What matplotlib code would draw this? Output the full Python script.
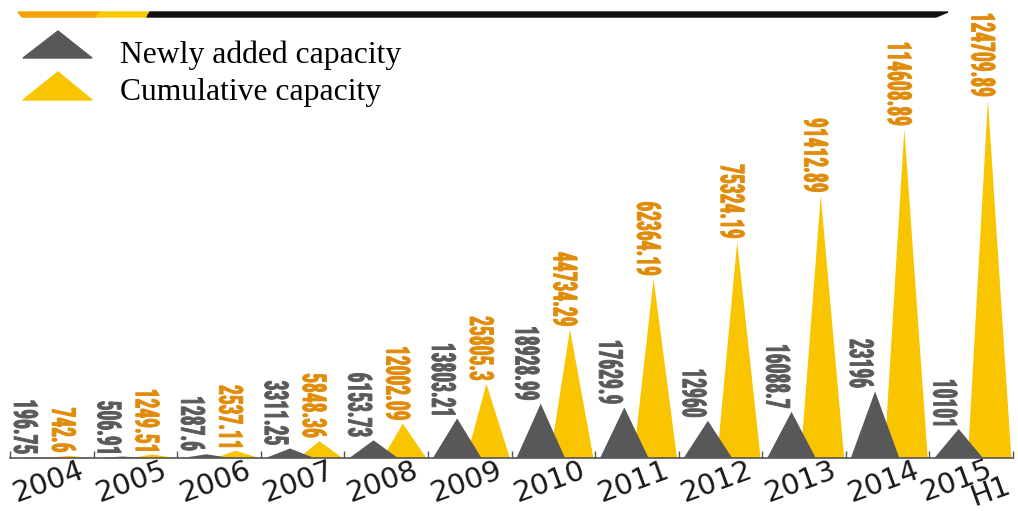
import matplotlib
matplotlib.use("Agg")
import matplotlib.pyplot as plt
from matplotlib import transforms
from matplotlib.font_manager import FontProperties
from matplotlib.patches import PathPatch, Polygon
from matplotlib.textpath import TextPath

W, H = 1018, 511

years = ['2004', '2005', '2006', '2007', '2008', '2009', '2010',
         '2011', '2012', '2013', '2014', '2015\nH1']
newly_added = [196.75, 506.91, 1287.6, 3311.25, 6153.73, 13803.21, 18928.99,
               17629.9, 12960, 16088.7, 23196, 10101]
cumulative = [742.6, 1249.51, 2537.11, 5848.36, 12002.09, 25805.3, 44734.29,
              62364.19, 75324.19, 91412.89, 114608.89, 124709.89]

DARK = '#58585a'
DARK_TXT = '#5a5a5c'
YELLOW = '#f9c400'
ORANGE_TXT = '#e08c0a'

label_font = FontProperties(family='Roboto Condensed', weight='bold')


def squeezed_label(ax, x, y, s, color, em=33, squeeze=0.59, gap=4):
    """Draw a narrow bold label reading downwards, its bottom just above (x, y)."""
    path = TextPath((0, 0), s, size=1, prop=label_font)
    ext = path.get_extents()
    px, py = ax.transData.transform((x, y))
    tr = (transforms.Affine2D()
          .translate(-ext.x1, -(ext.y0 + ext.y1) / 2)
          .scale(squeeze * em, em)
          .rotate_deg(-90)
          .translate(px, py + gap))
    ax.add_patch(PathPatch(path, transform=tr, facecolor=color,
                           edgecolor=color, lw=0.7, clip_on=False, zorder=5))


fig = plt.figure(figsize=(W / 100, H / 100), dpi=100)
# pixel coordinates measured from the top-left corner of the image
top_px = transforms.Affine2D().scale(1, -1).translate(0, H)

x0, x1, base = 10, 1013, 458
ax = fig.add_axes([x0 / W, (H - base) / H, (x1 - x0) / W, base / H])
ax.set_xlim(0, len(years))
ax.set_ylim(0, max(cumulative) * base / 358)

for i, (n, c) in enumerate(zip(newly_added, cumulative)):
    ax.fill([i + 0.46, i + 0.70, i + 0.98], [0, c, 0], color=YELLOW,
            lw=0, zorder=2)
    ax.fill([i + 0.06, i + 0.35, i + 0.64], [0, n, 0], color=DARK,
            lw=0, zorder=3)
    squeezed_label(ax, i + 0.19, n, str(n), DARK_TXT)
    squeezed_label(ax, i + 0.645, c, str(c), ORANGE_TXT)

for side in ['top', 'right', 'left']:
    ax.spines[side].set_visible(False)
ax.spines['bottom'].set_color('#555555')
ax.spines['bottom'].set_linewidth(1.2)
ax.set_yticks([])
ax.set_xticks(range(len(years) + 1))
ax.tick_params(axis='x', direction='in', length=5, width=1, color='#555555',
               labelbottom=False)

# slanted year labels; a second line sits right-aligned under the first
year_tr = transforms.blended_transform_factory(ax.transData, top_px)
year_style = dict(transform=year_tr, rotation=20, rotation_mode='anchor',
                  ha='center', va='center', fontsize=21, color='#1a1a1a',
                  clip_on=False)
for i, yr in enumerate(years):
    lines = yr.split('\n')
    if len(lines) == 1:
        ax.text(i + 0.46, 482, yr, **year_style)
    else:
        ax.text(i + 0.33, 481, lines[0], **year_style)
        ax.text(i + 0.73, 492, lines[1], **year_style)

# header strip
fig.patches.append(Polygon([(18, 12), (100, 12), (96, 17), (22, 17)],
                           closed=True, transform=top_px, color='#f5a200'))
fig.patches.append(Polygon([(100, 12), (150, 12), (147, 17), (96, 17)],
                           closed=True, transform=top_px, color='#f8c800'))
fig.patches.append(Polygon([(150, 12), (948, 12), (936, 17), (147, 17)],
                           closed=True, transform=top_px, color='#111111'))

# legend
fig.patches.append(Polygon([(23, 58), (58, 31), (92, 58)], closed=True,
                           transform=top_px, color=DARK))
fig.patches.append(Polygon([(23, 100), (58, 72), (92, 100)], closed=True,
                           transform=top_px, color=YELLOW))
fig.text(120, 63, 'Newly added capacity', transform=top_px,
         family='Liberation Serif', fontsize=22.8, va='baseline')
fig.text(120, 100, 'Cumulative capacity', transform=top_px,
         family='Liberation Serif', fontsize=22.8, va='baseline')

fig.savefig('out.png', dpi=100)
